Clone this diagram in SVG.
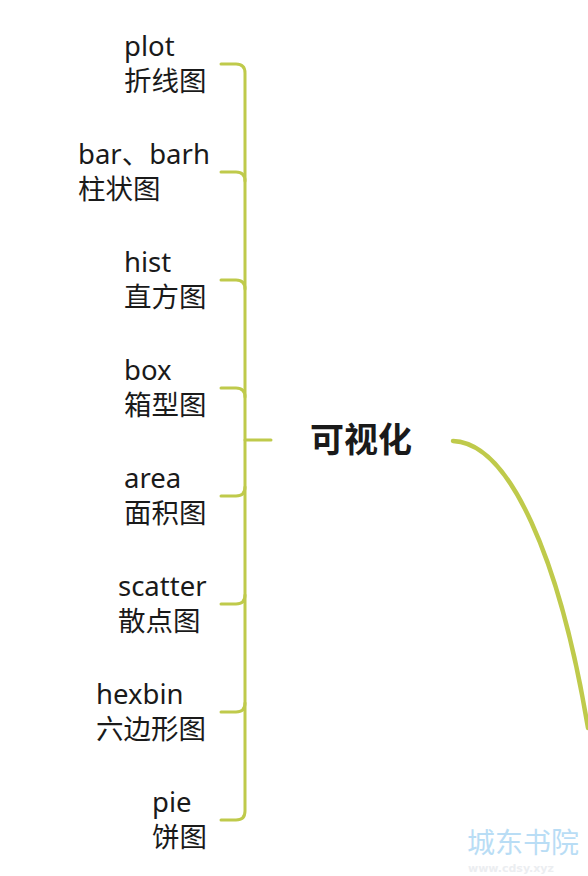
<svg xmlns="http://www.w3.org/2000/svg" width="588" height="876" viewBox="0 0 588 876">
<style>
.c{fill:none;stroke:#bfca4b;stroke-width:3;stroke-linecap:round}
.t{font-family:"Noto Sans","Noto Sans CJK SC",sans-serif;font-size:27.5px;fill:#1a1a1a}
.m{font-family:"Noto Sans CJK SC",sans-serif;font-size:34px;font-weight:bold;fill:#1a1a1a}
</style>
<rect width="588" height="876" fill="#ffffff"/>
<g id="connectors">
<path class="c" d="M221,64 H236 Q245,64 245,73 V811 Q245,820 236,820 H221"/>
<path class="c" d="M245,440 H271"/>
<path class="c" d="M221,172 H236 Q245,172 245,181"/>
<path class="c" d="M221,280 H236 Q245,280 245,289"/>
<path class="c" d="M221,388 H236 Q245,388 245,397"/>
<path class="c" d="M245,487 Q245,496 236,496 H221"/>
<path class="c" d="M245,595 Q245,604 236,604 H221"/>
<path class="c" d="M245,703 Q245,712 236,712 H221"/>
<path class="c" style="stroke-width:4.5" d="M453,441 C510,443 560,560 588,728"/>
</g>
<g id="center"><text class="m" x="310" y="452">可视化</text></g>
<g id="n1"><text class="t" x="124" y="56">plot</text><text class="t" x="124" y="91">折线图</text></g>
<g id="n2"><text class="t" x="78" y="164">bar、barh</text><text class="t" x="78" y="199">柱状图</text></g>
<g id="n3"><text class="t" x="124" y="272">hist</text><text class="t" x="124" y="307">直方图</text></g>
<g id="n4"><text class="t" x="124" y="380">box</text><text class="t" x="124" y="415">箱型图</text></g>
<g id="n5"><text class="t" x="124" y="488">area</text><text class="t" x="124" y="523">面积图</text></g>
<g id="n6"><text class="t" x="118" y="596">scatter</text><text class="t" x="118" y="631">散点图</text></g>
<g id="n7"><text class="t" x="96" y="704">hexbin</text><text class="t" x="96" y="739">六边形图</text></g>
<g id="n8"><text class="t" x="152" y="812">pie</text><text class="t" x="152" y="847">饼图</text></g>
<g id="watermark" opacity="0.6">
<text x="467" y="853" font-family="Noto Sans CJK SC,sans-serif" font-size="28" fill="#8cc8f0">城东书院</text>
<text x="468" y="872" font-family="DejaVu Sans,sans-serif" font-size="11" font-weight="bold" fill="#dfe3e8">www.cdsy.xyz</text>
</g>
</svg>
